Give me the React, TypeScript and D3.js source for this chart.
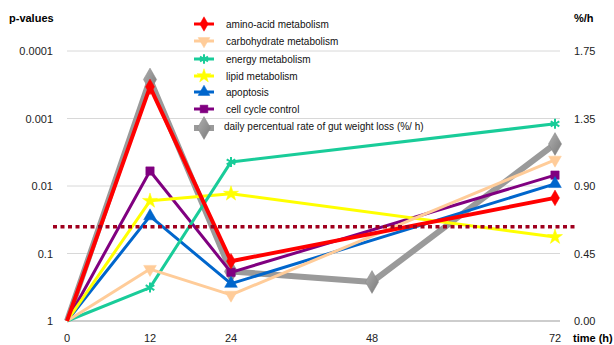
import React from 'react';
import * as d3 from 'd3';

const W = 614;
const H = 345;

const times = [0, 12, 24, 72];
const gutTimes = [0, 12, 24, 48, 72];
const xTickLabels = ['0', '12', '24', '48', '72'];

const aminoAcid = [1, 0.00034, 0.13, 0.015];
const carbohydrate = [1, 0.17, 0.41, 0.0041];
const energy = [1, 0.32, 0.0044, 0.0012];
const lipid = [1, 0.0166, 0.013, 0.057];
const apoptosis = [1, 0.028, 0.28, 0.0093];
const cellCycle = [1, 0.006, 0.19, 0.0069];
const gutWeightLoss = [0, 1.61, 0.33, 0.26, 1.18];

const pTicks = [1, 0.1, 0.01, 0.001, 0.0001];
const pTickLabels = ['1', '0.1', '0.01', '0.001', '0.0001'];
const rateTicks = [0, 0.45, 0.9, 1.35, 1.8];
const rateTickLabels = ['0.00', '0.45', '0.90', '1.35', '1.75'];
const threshold = 0.04;

const seriesNames = [
  'amino-acid metabolism',
  ' carbohydrate metabolism',
  'energy metabolism',
  ' lipid metabolism',
  'apoptosis',
  ' cell cycle control',
];
const gutName = 'daily percentual rate of gut weight loss (%/ h)';

const series = [
  { name: seriesNames[0], values: aminoAcid, color: '#ff0000', symbol: d3.symbolDiamond, rotate: 0, width: 4 },
  { name: seriesNames[1], values: carbohydrate, color: '#ffcc99', symbol: d3.symbolTriangle, rotate: 180, width: 3 },
  { name: seriesNames[2], values: energy, color: '#19cc99', symbol: d3.symbolAsterisk, rotate: 0, width: 3 },
  { name: seriesNames[3], values: lipid, color: '#ffff00', symbol: d3.symbolStar, rotate: 0, width: 3 },
  { name: seriesNames[4], values: apoptosis, color: '#0066cc', symbol: d3.symbolTriangle, rotate: 0, width: 3 },
  { name: seriesNames[5], values: cellCycle, color: '#800080', symbol: d3.symbolSquare, rotate: 0, width: 3 },
];

const FONT = '"Liberation Sans", Arial, sans-serif';

const App = () => {
  const x = d3.scaleLinear().domain([0, 12, 24, 48, 72]).range([67, 150, 231, 372, 555]);
  const y = d3.scaleLog().domain([1, 0.0001]).range([321, 51]);
  const yR = d3.scaleLinear().domain([0, 1.8]).range([321, 51]);

  const line = d3.line<number>()
    .x((d, i) => x(times[i]))
    .y(d => y(d));
  const gutLine = d3.line<number>()
    .x((d, i) => x(gutTimes[i]))
    .y(d => yR(d));

  const legendX = 194;
  const legendY = [24, 41, 59, 76, 92, 109];

  return (
    <svg width={W} height={H} style={{ position: 'absolute', left: 0, top: 0, fontFamily: FONT }}>
      <defs>
        <linearGradient id='gray-grad' x1='0' y1='0' x2='1' y2='1'>
          <stop offset='0%' stopColor='#b0b0b0' />
          <stop offset='100%' stopColor='#7a7a7a' />
        </linearGradient>
      </defs>
      <rect width={W} height={H} fill='#fff' />

      {pTicks.map((t, i) => (
        <g key={t}>
          <line x1={67} x2={560} y1={y(t)} y2={y(t)} stroke={i === 0 ? '#bdbdbd' : '#d8d8d8'} strokeWidth={i === 0 ? 1.5 : 1} />
          <text x={53} y={y(t) + 4} textAnchor='end' fontSize={11} fill='#222'>{pTickLabels[i]}</text>
        </g>
      ))}
      {rateTicks.map((t, i) => (
        <text key={t} x={574} y={yR(t) + 4} fontSize={11} fill='#222'>{rateTickLabels[i]}</text>
      ))}
      {gutTimes.map((t, i) => (
        <text key={t} x={x(t)} y={342} textAnchor='middle' fontSize={11} fill='#222'>{xTickLabels[i]}</text>
      ))}

      <text x={9} y={22} fontSize={11} fontWeight='bold' fill='#000'>p-values</text>
      <text x={574} y={22} fontSize={11} fontWeight='bold' fill='#000'>%/h</text>
      <text x={573} y={342} fontSize={11} fontWeight='bold' fill='#000'>time (h)</text>

      <path d={gutLine(gutWeightLoss) ?? ''} fill='none' stroke='#9a9a9a' strokeWidth={6} strokeLinejoin='round' />
      {gutWeightLoss.map((v, i) => i === 0 ? null : (
        <path key={i} d={d3.symbol().type(d3.symbolDiamond).size(150)() ?? ''}
          transform={`translate(${x(gutTimes[i])},${yR(v)})`} fill='url(#gray-grad)' stroke='#888' strokeWidth={0.5} />
      ))}

      {series.slice().reverse().map(s => (
        <g key={s.name}>
          <path d={line(s.values) ?? ''} fill='none' stroke={s.color} strokeWidth={s.width} strokeLinejoin='round' />
          {s.values.map((v, i) => i === 0 ? null : (
            <path key={i} d={d3.symbol().type(s.symbol).size(70)() ?? ''}
              transform={`translate(${x(times[i])},${y(v)}) rotate(${s.rotate})`}
              fill={s.color} stroke={s.color} strokeWidth={s.symbol === d3.symbolAsterisk ? 2 : 0.5} />
          ))}
        </g>
      ))}

      <line x1={53} x2={577} y1={y(threshold)} y2={y(threshold)} stroke='#a0001e' strokeWidth={3.5} strokeDasharray='4,3.5' />

      {series.map((s, i) => (
        <g key={s.name} transform={`translate(${legendX},${legendY[i]})`}>
          <line x1={0} x2={20} y1={0} y2={0} stroke={s.color} strokeWidth={3} />
          <path d={d3.symbol().type(s.symbol).size(60)() ?? ''} transform={`translate(10,0) rotate(${s.rotate})`}
            fill={s.color} stroke={s.color} strokeWidth={s.symbol === d3.symbolAsterisk ? 2 : 0.5} />
          <text x={32} y={4} fontSize={10} fill='#111'>{s.name}</text>
        </g>
      ))}
      <g transform={`translate(${legendX},${128})`}>
        <line x1={0} x2={20} y1={0} y2={0} stroke='#9a9a9a' strokeWidth={6} />
        <path d={d3.symbol().type(d3.symbolDiamond).size(150)() ?? ''} transform='translate(10,0)'
          fill='url(#gray-grad)' stroke='#888' strokeWidth={0.5} />
        <text x={30} y={2} fontSize={10} fill='#111'>{gutName}</text>
      </g>
    </svg>
  );
};

export default App;
